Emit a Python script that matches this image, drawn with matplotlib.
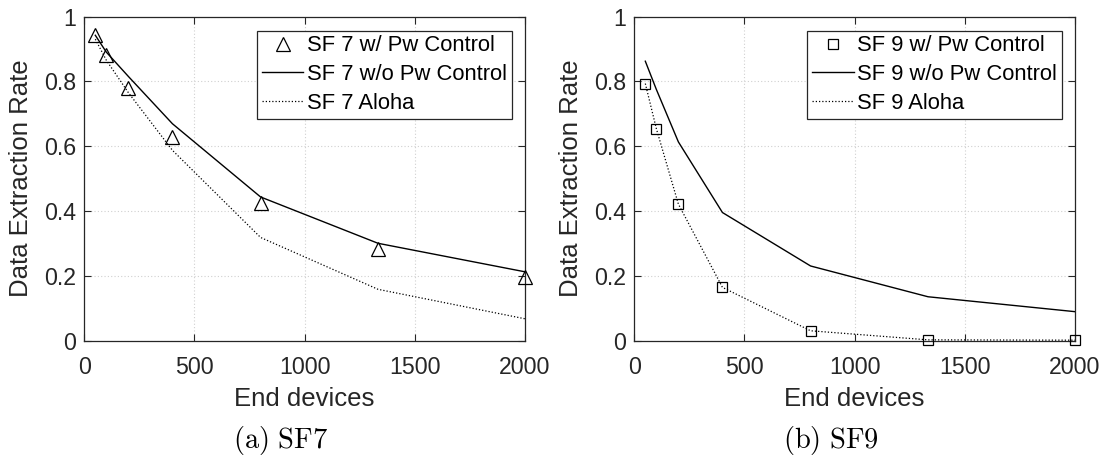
import matplotlib
matplotlib.use("Agg")
import matplotlib.pyplot as plt
from matplotlib.ticker import FixedLocator, FuncFormatter

plt.rcParams['font.family'] = ['Liberation Sans', 'DejaVu Sans']
plt.rcParams['mathtext.fontset'] = 'cm'

# ---- data ----
devices = [50, 100, 200, 400, 800, 1333, 2000]

sf7_pw = [0.944, 0.882, 0.779, 0.628, 0.423, 0.282, 0.197]
sf7_nopw = [0.942, 0.890, 0.815, 0.669, 0.443, 0.300, 0.212]
sf7_aloha = [0.930, 0.865, 0.765, 0.587, 0.318, 0.158, 0.067]

sf9_pw = [0.793, 0.654, 0.421, 0.164, 0.030, 0.002, 0.001]
sf9_nopw = [0.862, 0.775, 0.613, 0.395, 0.230, 0.135, 0.089]
sf9_aloha = [0.793, 0.654, 0.421, 0.164, 0.030, 0.002, 0.001]

labels7 = ["SF 7 w/ Pw Control", "SF 7 w/o Pw Control", "SF 7 Aloha"]
labels9 = ["SF 9 w/ Pw Control", "SF 9 w/o Pw Control", "SF 9 Aloha"]
captions = [r"$\mathrm{(a)\ SF7}$", r"$\mathrm{(b)\ SF9}$"]
xticks = [0, 500, 1000, 1500, 2000]
yticks = [0, 0.2, 0.4, 0.6, 0.8, 1.0]

W, H = 1106, 458
fig = plt.figure(figsize=(W / 100, H / 100), dpi=100)

axcol = '#262626'


def make_ax(left_px, right_px, pw, nopw, aloha, marker, msize, labels):
    top_px, bot_px = 16.5, 340.5
    ax = fig.add_axes([left_px / W, 1 - bot_px / H, (right_px - left_px) / W, (bot_px - top_px) / H])
    ax.plot(devices, pw, linestyle='none', marker=marker, markersize=msize,
            markerfacecolor='none', markeredgecolor='black', markeredgewidth=0.9,
            label=labels[0], zorder=4, clip_on=False)
    ax.plot(devices, nopw, color='black', linewidth=1.0, label=labels[1], zorder=3)
    ax.plot(devices, aloha, color='black', linewidth=0.9, linestyle=(0, (1, 1.6)), label=labels[2], zorder=3)
    ax.set_xlim(0, 2000)
    ax.set_ylim(0, 1)
    ax.xaxis.set_major_locator(FixedLocator(xticks))
    ax.yaxis.set_major_locator(FixedLocator(yticks))
    ax.yaxis.set_major_formatter(FuncFormatter(lambda v, p: "%g" % v))
    ax.grid(True, color='#d0d0d0', linestyle=(0, (1, 2)), linewidth=0.8)
    ax.tick_params(direction='in', length=5, width=0.8, colors=axcol, labelsize=16.7,
                   top=True, right=True)
    ax.tick_params(axis='x', pad=11)
    ax.tick_params(axis='y', pad=6)
    for sp in ax.spines.values():
        sp.set_color(axcol)
        sp.set_linewidth(0.9)
    ax.set_xlabel("End devices", fontsize=18.5, color=axcol)
    ax.set_ylabel("Data Extraction Rate", fontsize=18.5, color=axcol)
    ax.xaxis.set_label_coords(0.5, -0.145)
    ax.yaxis.set_label_coords(-0.116, 0.5)
    leg = ax.legend(loc='upper right', bbox_to_anchor=(1 - 13.5 / (right_px - left_px), 1 - 14 / (bot_px - top_px)),
                    fontsize=15.8, frameon=True, fancybox=False, framealpha=1,
                    edgecolor=axcol, handlelength=1.9, handletextpad=0.15,
                    labelspacing=0.35, borderpad=0.22, borderaxespad=0)
    leg.get_frame().set_linewidth(0.9)
    for t in leg.get_texts():
        t.set_color('black')
    return ax


ax1 = make_ax(84.3, 525, sf7_pw, sf7_nopw, sf7_aloha, '^', 9.5, labels7)
ax2 = make_ax(634.3, 1075, sf9_pw, sf9_nopw, sf9_aloha, 's', 7.5, labels9)

fig.text(280.5 / W, 10 / H, captions[0], ha='center', va='baseline', fontsize=20.5, color='black')
fig.text(831 / W, 10 / H, captions[1], ha='center', va='baseline', fontsize=20.5, color='black')

fig.savefig("out.png", dpi=100)
